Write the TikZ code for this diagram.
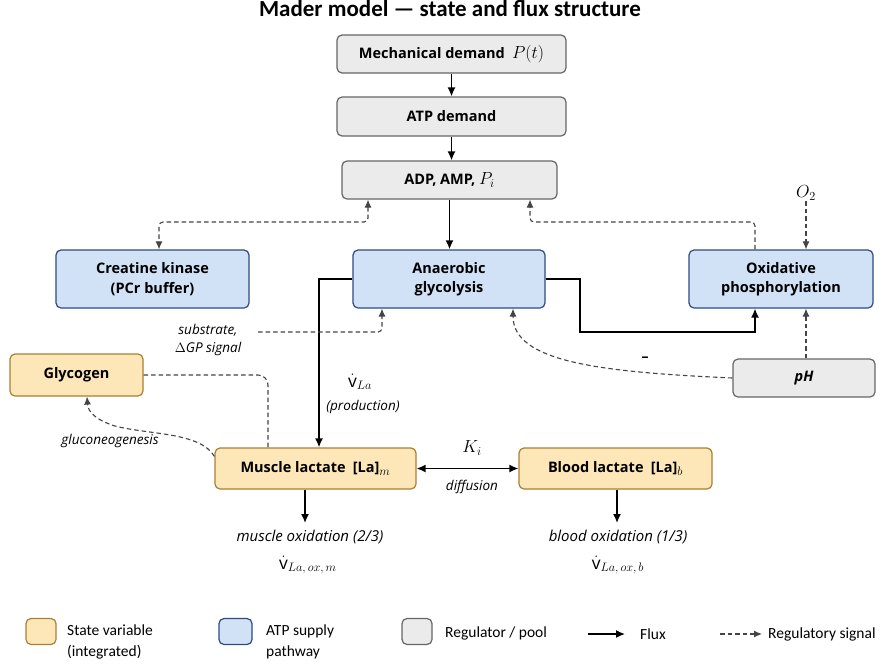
\RequirePackage{fix-cm}
\documentclass[tikz,border=0pt]{standalone}
\usepackage{fontspec}
\setmainfont{Open Sans}
\newfontfamily\legfont{Carlito}
\usetikzlibrary{arrows.meta,calc}
\definecolor{yfill}{HTML}{FDE6B8}
\definecolor{ydraw}{HTML}{A98030}
\definecolor{bfill}{HTML}{D2E2F6}
\definecolor{bdraw}{HTML}{2E4A80}
\definecolor{gfill}{HTML}{EBEBEB}
\definecolor{gdraw}{HTML}{666666}
\definecolor{sigc}{HTML}{444444}
\newcommand\mthbig[1]{{\fontsize{17.5}{19}\selectfont$#1$}}
\begin{document}
\begin{tikzpicture}[x=1pt,y=-1pt,
  box/.style={rounded corners=5pt, line width=1.2pt, inner sep=0pt, align=center,
    font=\bfseries\fontsize{14.5}{19.5}\selectfont},
  statebox/.style={box, fill=yfill, draw=ydraw},
  supplybox/.style={box, fill=bfill, draw=bdraw},
  regbox/.style={box, fill=gfill, draw=gdraw},
  flux/.style={line width=1.5pt, -{Latex[length=9pt,width=8pt]}},
  fluxboth/.style={line width=1.5pt, {Latex[length=9pt,width=8pt]}-{Latex[length=9pt,width=8pt]}},
  sigline/.style={line width=1.1pt, draw=sigc, dash pattern=on 4.5pt off 3pt},
  sig/.style={sigline, -{Latex[length=8pt,width=7pt]}},
  sigboth/.style={sigline, {Latex[length=8pt,width=7pt]}-{Latex[length=8pt,width=7pt]}},
  lab/.style={font=\itshape\fontsize{13.5}{18}\selectfont, align=center, inner sep=1pt},
  oxlab/.style={font=\itshape\fontsize{15}{18}\selectfont, align=center, inner sep=1pt},
  mlab/.style={font=\fontsize{17.5}{19}\selectfont, inner sep=1pt},
  legtext/.style={font=\legfont\fontsize{15.5}{21}\selectfont, align=left, inner sep=0pt, anchor=west},
]
\useasboundingbox (0,0) rectangle (882,670);
\fill[white] (0,0) rectangle (882,670);

% title
\node[font=\legfont\bfseries\fontsize{23}{26}\selectfont] (title) at (450,9) {Mader model — state and flux structure};

% nodes
\node[regbox, minimum width=229, minimum height=38] (mech) at (451.5,54) {Mechanical demand\enspace\mthbig{P(t)}};
\node[regbox, minimum width=229, minimum height=39] (atp) at (451.5,116.5) {ATP demand};
\node[regbox, minimum width=215, minimum height=38] (adp) at (449.5,180) {ADP, AMP, \mthbig{P_i}};
\node[supplybox, minimum width=193, minimum height=58] (ck) at (152.5,279) {Creatine kinase\\(PCr buffer)};
\node[supplybox, minimum width=192, minimum height=58] (ag) at (449,279) {Anaerobic\\glycolysis};
\node[supplybox, minimum width=184, minimum height=58] (ox) at (781,279) {Oxidative\\phosphorylation};
\node[regbox, minimum width=142, minimum height=38, font=\bfseries\itshape\fontsize{14.5}{19}\selectfont] (ph) at (804,378) {pH};
\node[statebox, minimum width=133, minimum height=42] (gly) at (76.5,375) {Glycogen};
\node[statebox, minimum width=201, minimum height=41] (ml) at (315.5,468.5) {Muscle lactate\enspace[La]\mthbig{_m}};
\node[statebox, minimum width=193, minimum height=41] (bl) at (615.5,468.5) {Blood lactate\enspace[La]\mthbig{_b}};

% labels
\node[mlab] (o2) at (806,193) {$O_2$};
\node[lab] (sub) at (208,340) {substrate,\\$\Delta$GP signal};
\node[mlab] (prodv) at (360,382) {$\dot{\mathrm{v}}_{La}$};
\node[lab] (prod) at (363,407) {(production)};
\node[lab] (glu) at (110,441) {gluconeogenesis};
\node[mlab] (ki) at (472,448) {$K_i$};
\node[lab] (dif) at (472,487) {diffusion};
\node[oxlab] (mox) at (310,537) {muscle oxidation (2/3)};
\node[mlab] (moxv) at (308,565) {$\dot{\mathrm{v}}_{La,\,ox,\,m}$};
\node[oxlab] (box) at (618,537) {blood oxidation (1/3)};
\node[mlab] (boxv) at (618,565) {$\dot{\mathrm{v}}_{La,\,ox,\,b}$};
\node[font=\bfseries\fontsize{14}{16}\selectfont, inner sep=0pt] (minus) at (645,359) {–};

% coordinates
\coordinate (c1) at (368,222);
\coordinate (c2) at (159,222);
\coordinate (c3) at (755,222);
\coordinate (c4) at (530,222);
\coordinate (c5) at (319,279);
\coordinate (c6) at (580,332);
\coordinate (c7) at (755,332);
\coordinate (c8) at (258,332);
\coordinate (c9) at (382,332);
\coordinate (c10) at (268,375);
\coordinate (e1) at (305,523);
\coordinate (e2) at (617,523);

% flux
\draw[flux] (mech.south) -- (atp.north);
\draw[flux] (atp.south) -- (atp.south |- adp.north);
\draw[flux, line width=1.8pt] (adp.south) -- (adp.south |- ag.north);
\draw[flux] (ag.west) -- (c5) -- (c5 |- ml.north);
\draw[flux] (ag.east) -| (c6) -- (c7) -- (c7 |- ox.south);
\draw[fluxboth] (ml.east) -- (bl.west);
\draw[flux] (e1 |- ml.south) -- (e1);
\draw[flux] (e2 |- bl.south) -- (e2);

% signals
\draw[sigboth, rounded corners=4pt] (c1 |- adp.south) -- (c1) -- (c2) -- (c2 |- ck.north);
\draw[sig, rounded corners=4pt] (c3 |- ox.north) -- (c3) -- (c4) -- (c4 |- adp.south);
\draw[sig] (o2.south) -- (o2.south |- ox.north);
\draw[sig] (ph.north -| o2) -- (ox.south -| o2);
\draw[sig, rounded corners=4pt] (c8) -- (c9) -- (c9 |- ag.south);
\draw[sigline, rounded corners=10pt] (gly.east) -- (c10) -- (c10 |- ml.north);
\draw[sig] ([yshift=-9pt]ml.north west) .. controls (200,432) and (150,435) .. (115,426)
   .. controls (96,420) and (88,412) .. ([xshift=10.5pt]gly.south);
\draw[sig] (ph.west) .. controls (600,372) and (513,362) .. ([xshift=64pt]ag.south);

% legend
\node[statebox, minimum width=30, minimum height=26] (lgy) at (41,631.5) {};
\node[legtext] (lgyt) at (67,642) {State variable\\(integrated)};
\node[supplybox, minimum width=33, minimum height=26] (lgb) at (235.5,631.5) {};
\node[legtext] (lgbt) at (266,642) {ATP supply\\pathway};
\node[regbox, minimum width=30, minimum height=26] (lgg) at (417,631.5) {};
\node[legtext] (lggt) at (445,633) {Regulator / pool};
\coordinate (lf1) at (588,634);
\coordinate (lf2) at (625,634);
\node[legtext] (lft) at (640,634) {Flux};
\coordinate (ls1) at (720,634);
\coordinate (ls2) at (762,634);
\node[legtext] (lst) at (768,634) {Regulatory signal};
\draw[flux] (lf1) -- (lf2);
\draw[sig] (ls1) -- (ls2);
\end{tikzpicture}
\end{document}
